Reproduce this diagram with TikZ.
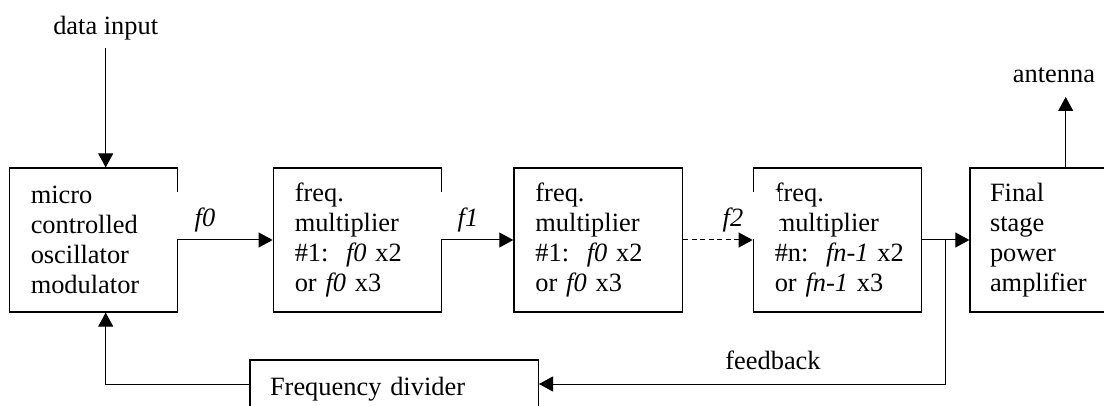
\documentclass[tikz,border=0pt]{standalone}
\usepackage{fontspec}
\setmainfont{Liberation Serif}
\usetikzlibrary{arrows.meta,calc}
\begin{document}
\begin{tikzpicture}[x=1pt,y=-1pt,
  font=\fontsize{26.4}{30}\selectfont,
  blk/.style={draw,line width=1.3pt,rectangle,minimum width=168.5pt,minimum height=144pt,
    inner xsep=21.5pt,text width=125.5pt,align=left},
  lbl/.style={fill=white,inner sep=0pt,minimum height=47.5pt,text height=25pt,text depth=3pt},
  arr/.style={line width=1pt,-{Triangle[length=14pt,width=15pt]}},
  dsh/.style={dash pattern=on 5pt off 3.5pt}]
\clip (0,0) rectangle (1104,406);
% blocks
\node[blk] (b1) at (93.5,240) {micro\\controlled\\oscillator\\modulator};
\node[blk] (b2) at (357.5,240) {freq.\\multiplier\\\mbox{\#1:\ \ \textit{f0} x2}\\\mbox{or \textit{f0} x3}};
\node[blk] (b3) at (598.2,240) {freq.\\multiplier\\\mbox{\#1:\ \ \textit{f0} x2}\\\mbox{or \textit{f0} x3}};
\node[blk] (b4) at (837.5,240) {freq.\\multiplier\\\mbox{\#n:\ \ \textit{fn-1} x2}\\\mbox{or \textit{fn-1} x3}};
\node[blk,minimum width=170pt,inner xsep=20pt,text width=130pt] (b5) at (1055,240) {Final\\stage\\power\\amplifier};
\node[blk,minimum width=288.3pt,minimum height=48pt,inner xsep=20pt,text width=248.3pt,
  text height=24pt,text depth=2pt] (fd) at (394.2,384) {Frequency divider};
% signal labels (white boxes)
\node[lbl,minimum width=58pt] (l0) at (205,215.5) {\textit{f0}};
\node[lbl,minimum width=58pt] (l1) at (468,215.5) {\textit{f1}};
\node[lbl,minimum width=92pt] (l2) at (733,215.5) {\textit{f2}};
% free texts
\node[anchor=base] (din) at (105.7,35) {data input};
\node[anchor=base] (ant) at (1054,82.5) {antenna};
\node[anchor=base] (fb) at (773,370) {feedback};
\coordinate (tip) at (1065.7,97);
\coordinate (j) at ($(b4.east)!0.5!(b5.west)$);
% connectors
\draw[arr] ([yshift=-4pt]din.south) -- (din |- b1.north);
\draw[arr] (b1.east) -- (b2.west);
\draw[arr] (b2.east) -- (b3.west);
\draw[arr,dsh] (b3.east) -- (b4.west);
\draw[arr] (b4.east) -- (b5.west);
\draw[arr] (b5.north -| tip) -- (tip);
\draw[arr] (j) |- (fd.east);
\draw[arr] (fd.west) -| (din |- b1.south);
\end{tikzpicture}
\end{document}
